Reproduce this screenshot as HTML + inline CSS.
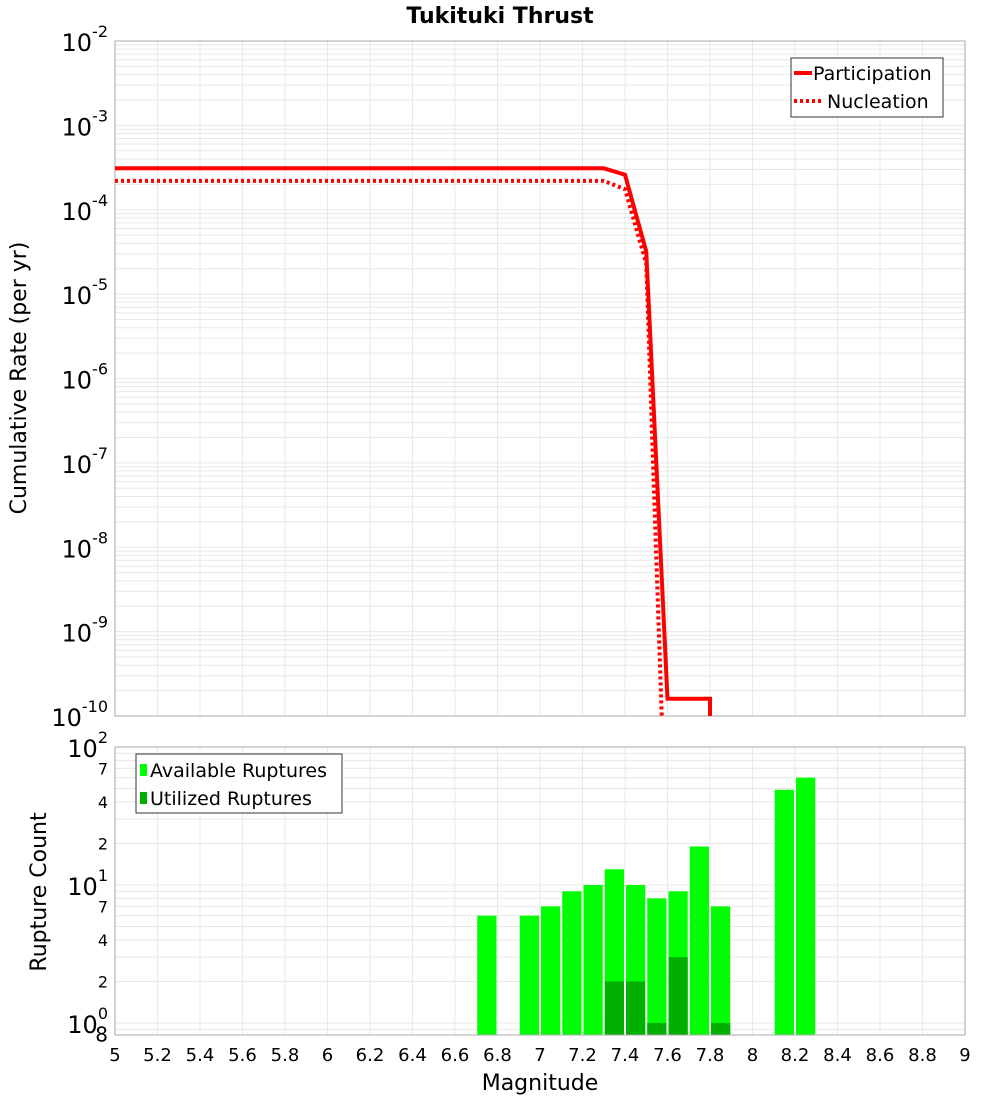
<!DOCTYPE html>
<html><head><meta charset="utf-8"><style>
body{margin:0;background:#fff;font-family:"Liberation Sans","DejaVu Sans",sans-serif}
svg text{font-family:"DejaVu Sans","Liberation Sans",sans-serif}
</style></head><body>
<svg id="c" width="1000" height="1100" xmlns="http://www.w3.org/2000/svg">
<text x="500" y="23" text-anchor="middle" font-size="22" font-weight="bold">Tukituki Thrust</text>
<g id="topg"></g><g id="botg"></g>
<text transform="translate(26,378) rotate(-90)" text-anchor="middle" font-size="22">Cumulative Rate (per yr)</text>
<text transform="translate(46,892) rotate(-90)" text-anchor="middle" font-size="22">Rupture Count</text>
<text x="540" y="1090" text-anchor="middle" font-size="22">Magnitude</text>
</svg>
<script>
const magsLine=[5,7.2,7.3,7.4,7.5,7.6,7.7,7.8,7.8];
const participation=[3.1e-4,3.1e-4,3.1e-4,2.6e-4,3.2e-5,1.6e-10,1.6e-10,1.6e-10,1e-12];
const magsNuc=[5,7.2,7.3,7.4,7.5,7.6];
const nucleation=[2.2e-4,2.2e-4,2.2e-4,1.75e-4,2.3e-5,1e-12];
const barMags=[6.7,6.9,7.0,7.1,7.2,7.3,7.4,7.5,7.6,7.7,7.8,8.1,8.2];
const available=[6,6,7,9,10,13,10,8,9,19,7,49,60];
const utilMags=[7.3,7.4,7.5,7.6,7.8];
const utilized=[2,2,1,3,1];
const xTicks=[5,5.2,5.4,5.6,5.8,6,6.2,6.4,6.6,6.8,7,7.2,7.4,7.6,7.8,8,8.2,8.4,8.6,8.8,9];

const NS="http://www.w3.org/2000/svg";
function mk(p,t,a){const e=document.createElementNS(NS,t);for(const k in a)e.setAttribute(k,a[k]);p.appendChild(e);return e;}
const X0=115,X1=965;
const xs=m=>X0+(m-5)/4*(X1-X0);
const T0=41,T1=716;
const yT=v=>T0+(-2-Math.log10(v))/8*(T1-T0);
const B0=747,B1=1035,BD=138;
const yB=v=>B0+(2-Math.log10(v))*BD;

const topG=document.getElementById('topg');
for(let e=-10;e<-2;e++)for(let k=1;k<10;k++){const y=yT(k*Math.pow(10,e));if(y<T0||y>T1)continue;
 const g=mk(topG,'line',{x1:X0,x2:X1,y1:y,y2:y,stroke:'#e8e8e8','stroke-width':1});
 
 }
for(const t of xTicks){const g=mk(topG,'line',{x1:xs(t),x2:xs(t),y1:T0,y2:T1,stroke:'#e8e8e8'});
 
 }
const tf=mk(topG,'rect',{x:X0,y:T0,width:X1-X0,height:T1-T0,fill:'none',stroke:'#aaa'});


for(let e=-2;e>=-10;e--){const y=yT(Math.pow(10,e));
 const t=mk(topG,'text',{x:108,y:y+10,'text-anchor':'end','font-size':24});
 
 
 t.textContent='10';const s=mk(t,'tspan',{dy:-14,'font-size':16});s.textContent=String(e);}
const cp=mk(topG,'clipPath',{id:'cpt'});mk(cp,'rect',{x:X0,y:T0,width:X1-X0,height:T1-T0});
function pts(ms,vs){return ms.map((m,i)=>xs(m)+','+yT(vs[i])).join(' ');}
const pl=mk(topG,'polyline',{points:pts(magsLine,participation),fill:'none',stroke:'#f00','stroke-width':4,'clip-path':'url(#cpt)'});


const nl=mk(topG,'polyline',{points:pts(magsNuc,nucleation),fill:'none',stroke:'#f00','stroke-width':4,'stroke-dasharray':'3,3','clip-path':'url(#cpt)'});


const lg=mk(topG,'g',{});


mk(lg,'rect',{x:791,y:58,width:152,height:59,fill:'#fff',stroke:'#333'});
mk(lg,'line',{x1:794,x2:812,y1:73,y2:73,stroke:'#f00','stroke-width':4});
mk(lg,'line',{x1:794,x2:822,y1:101,y2:101,stroke:'#f00','stroke-width':4,'stroke-dasharray':'3,3'});
let lt=mk(lg,'text',{x:813,y:80,'font-size':19});lt.textContent='Participation';


lt=mk(lg,'text',{x:827,y:108,'font-size':19});lt.textContent='Nucleation';



const botG=document.getElementById('botg');
for(let e=-1;e<2;e++)for(let k=1;k<10;k++){const y=yB(k*Math.pow(10,e));if(y<B0||y>B1)continue;
 const g=mk(botG,'line',{x1:X0,x2:X1,y1:y,y2:y,stroke:'#e8e8e8'});
 
 }
for(const t of xTicks){const g=mk(botG,'line',{x1:xs(t),x2:xs(t),y1:B0,y2:B1,stroke:'#e8e8e8'});
 
 
 const tx=mk(botG,'text',{x:xs(t),y:1061,'text-anchor':'middle','font-size':18});
 
 
 tx.textContent=String(t);}
barMags.forEach((m,i)=>{const y=yB(available[i]);
 const r=mk(botG,'rect',{x:xs(m)+1,y:y,width:xs(m+0.1)-xs(m)-2,height:B1-y,fill:'#00ff00'});
 
 });
utilMags.forEach((m,i)=>{const y=yB(utilized[i]);
 const r=mk(botG,'rect',{x:xs(m)+1,y:y,width:xs(m+0.1)-xs(m)-2,height:B1-y,fill:'#00b000'});
 
 });
const bf=mk(botG,'rect',{x:X0,y:B0,width:X1-X0,height:B1-B0,fill:'none',stroke:'#aaa'});


[[2,'10','2'],[1,'10','1'],[0,'10','0']].forEach(([e,b,s])=>{const y=yB(Math.pow(10,e));
 const t=mk(botG,'text',{x:108,y:y+10,'text-anchor':'end','font-size':24});
 
 
 t.textContent=b;const sp=mk(t,'tspan',{dy:-14,'font-size':16});sp.textContent=s;});
[[70,'7'],[40,'4'],[20,'2'],[7,'7'],[4,'4'],[2,'2'],[0.8,'8']].forEach(([v,l])=>{
 const t=mk(botG,'text',{x:108,y:yB(v)+(v<1?5:6),'text-anchor':'end','font-size':v<1?20:16});
 
 
 t.textContent=l;});
const bl=mk(botG,'g',{});


mk(bl,'rect',{x:136,y:754,width:206,height:59,fill:'#fff',stroke:'#333'});
mk(bl,'rect',{x:140,y:764,width:7,height:12,fill:'#00ff00'});
mk(bl,'rect',{x:140,y:792,width:7,height:12,fill:'#00b000'});
let bt=mk(bl,'text',{x:150,y:777,'font-size':19});bt.textContent='Available Ruptures';


bt=mk(bl,'text',{x:150,y:805,'font-size':19});bt.textContent='Utilized Ruptures';


</script>
</body></html>
